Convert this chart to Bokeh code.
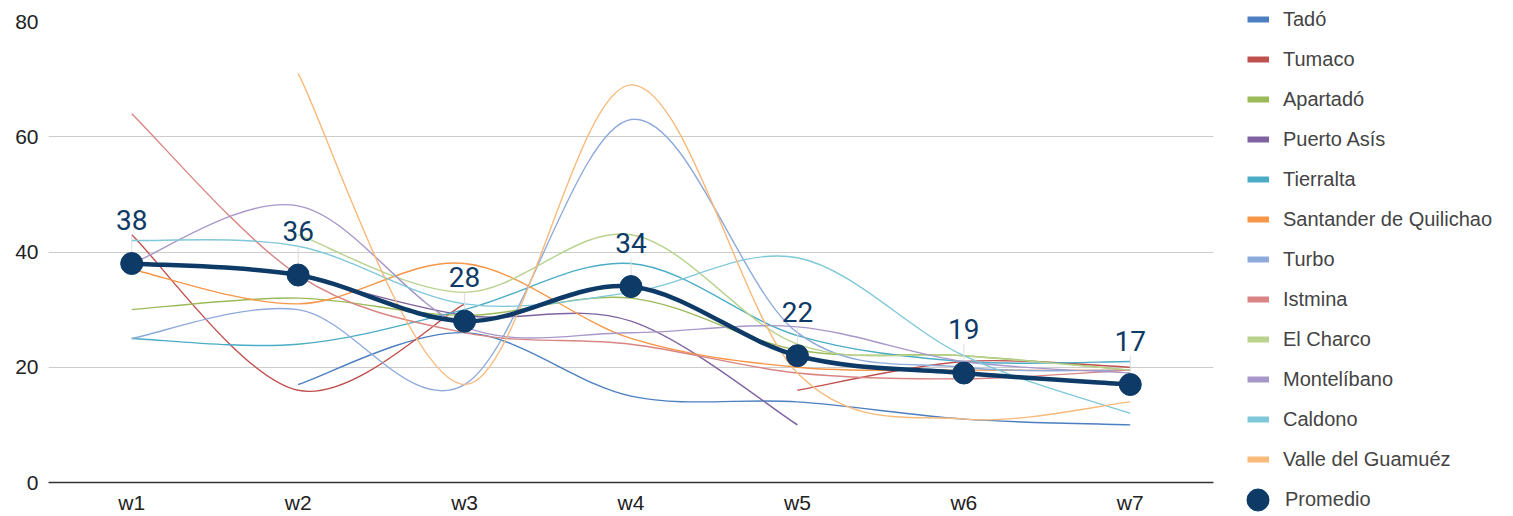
from bokeh.plotting import figure
from bokeh.layouts import row
from bokeh.models import Legend, LegendItem, FixedTicker, Range1d
from bokeh.embed import file_html
from bokeh.resources import INLINE
from bokeh.core.properties import value

N = None
weeks = ["w1", "w2", "w3", "w4", "w5", "w6", "w7"]
y_ticks = [0, 20, 40, 60, 80]

series_names = ["Tadó", "Tumaco", "Apartadó", "Puerto Asís", "Tierralta",
                "Santander de Quilichao", "Turbo", "Istmina", "El Charco",
                "Montelíbano", "Caldono", "Valle del Guamuéz"]

tado = [N, 17, 26, 15, 14, 11, 10]
tumaco = [43, 16, 31, N, 16, 21, 20]
apartado = [30, 32, 29, 32, 23, 22, 19.5]
puerto_asis = [N, 36, 29, 28, 10, N, N]
tierralta = [25, 24, 30, 38, 25.5, 21, 21]
santander = [37, 31, 38, 25, 20, 19.5, 19.5]
turbo = [25, 30, 17, 63, 26, 20, 19.5]
istmina = [64, 36, 26, 24, 19, 18, 19.5]
el_charco = [N, 43, 33, 43, 24, 22, 19.5]
montelibano = [38, 48, 27, 26, 27, 21, 19]
caldono = [42, 41, 31, 33, 39, 22, 12]
valle = [N, 71, 17, 69, 19, 11, 14]
promedio = [38, 36, 28, 34, 22, 19, 17]

series_values = [tado, tumaco, apartado, puerto_asis, tierralta, santander,
                 turbo, istmina, el_charco, montelibano, caldono, valle]
colors = ["#4C7FC0", "#C0504D", "#9BBB59", "#7E63A0", "#4BACC6", "#F79646",
          "#8EAADB", "#D98583", "#B9D38F", "#A897C9", "#7FC8D9", "#F9B97A"]
navy = "#0D3A66"

xs = list(range(len(weeks)))


def curve(vals, t=1 / 6):
    out = {k: [] for k in ["x0", "y0", "x1", "y1", "cx0", "cy0", "cx1", "cy1"]}
    runs, cur = [], []
    for i, v in enumerate(vals):
        if v is None:
            if cur:
                runs.append(cur)
            cur = []
        else:
            cur.append((xs[i], v))
    if cur:
        runs.append(cur)
    for pts in runs:
        n = len(pts)
        for j in range(n - 1):
            p0 = pts[j - 1] if j > 0 else pts[j]
            p1, p2 = pts[j], pts[j + 1]
            p3 = pts[j + 2] if j + 2 < n else pts[j + 1]
            out["x0"].append(p1[0]); out["y0"].append(p1[1])
            out["x1"].append(p2[0]); out["y1"].append(p2[1])
            out["cx0"].append(p1[0] + (p2[0] - p0[0]) * t)
            out["cy0"].append(p1[1] + (p2[1] - p0[1]) * t)
            out["cx1"].append(p2[0] - (p3[0] - p1[0]) * t)
            out["cy1"].append(p2[1] - (p3[1] - p1[1]) * t)
    return out


p = figure(width=1230, height=516, x_range=Range1d(-0.5, 6.5), y_range=Range1d(0, 80),
           output_backend="svg", toolbar_location=None,
           min_border_left=48, min_border_right=17, min_border_top=21, min_border_bottom=0)
p.frame_align = False
p.outline_line_color = None
p.xgrid.grid_line_color = None
p.ygrid.grid_line_color = "#cccccc"
p.ygrid.grid_line_width = 1

p.yaxis.ticker = FixedTicker(ticks=y_ticks)
p.yaxis.axis_line_color = None
p.yaxis.major_tick_line_color = None
p.yaxis.major_tick_out = 0
p.yaxis.minor_tick_line_color = None
p.yaxis.major_label_text_font_size = "21px"
p.yaxis.major_label_text_font = "Liberation Sans"
p.yaxis.major_label_text_color = "#222222"
p.yaxis.major_label_standoff = 10

p.xaxis.ticker = FixedTicker(ticks=xs)
p.xaxis.major_label_overrides = {i: w for i, w in zip(xs, weeks)}
p.xaxis.axis_line_color = "#333333"
p.xaxis.axis_line_width = 1.5
p.xaxis.major_tick_line_color = None
p.xaxis.major_tick_out = 0
p.xaxis.minor_tick_line_color = None
p.xaxis.major_label_text_font_size = "21px"
p.xaxis.major_label_text_font = "Liberation Sans"
p.xaxis.major_label_text_color = "#222222"
p.xaxis.major_label_standoff = 8

for vals, c in zip(series_values, colors):
    seg = curve(vals)
    p.bezier(x0=seg["x0"], y0=seg["y0"], x1=seg["x1"], y1=seg["y1"],
             cx0=seg["cx0"], cy0=seg["cy0"], cx1=seg["cx1"], cy1=seg["cy1"],
             line_color=c, line_width=1.4)

# leader lines from labels
p.segment(x0=xs, y0=promedio, x1=xs, y1=[v + 5 for v in promedio],
          line_color="#dddddd", line_width=1)

seg = curve(promedio)
p.bezier(x0=seg["x0"], y0=seg["y0"], x1=seg["x1"], y1=seg["y1"],
         cx0=seg["cx0"], cy0=seg["cy0"], cx1=seg["cx1"], cy1=seg["cy1"],
         line_color=navy, line_width=4.5)
p.scatter(x=xs, y=promedio, size=22, fill_color=navy, line_color=navy)
p.text(x=xs, y=promedio, text=[str(v) for v in promedio], text_align="center",
       text_baseline="alphabetic", y_offset=-44, text_font=value("Roboto"),
       text_font_size="28px", text_color=navy)

# legend in its own panel (proxy renderers sit outside the visible range)
lg = figure(width=283, height=516, x_range=Range1d(0, 1), y_range=Range1d(0, 1),
            output_backend="svg", toolbar_location=None, x_axis_type=None, y_axis_type=None,
            min_border_left=0, min_border_right=0, min_border_top=0, min_border_bottom=0)
lg.frame_align = False
lg.outline_line_color = None
lg.xgrid.grid_line_color = None
lg.ygrid.grid_line_color = None

items = []
for name, c in zip(series_names, colors):
    r = lg.line(x=[5, 6], y=[5, 5], line_color=c, line_width=6)
    items.append(LegendItem(label=name, renderers=[r]))
legend = Legend(items=items, location=(17, 45), orientation="vertical",
                glyph_width=22, glyph_height=24, label_height=24, spacing=16,
                label_standoff=14, padding=0, margin=0,
                border_line_color=None, background_fill_alpha=0,
                label_text_font_size="20px", label_text_font="Liberation Sans",
                label_text_color="#444444")
lg.add_layout(legend, "center")

rp = lg.scatter(x=[5], y=[5], size=22, fill_color=navy, line_color=navy)
legend2 = Legend(items=[LegendItem(label="Promedio", renderers=[rp])], location=(0, -11),
                 glyph_width=55, glyph_height=55, label_height=24, label_standoff=-2,
                 padding=0, margin=0, border_line_color=None, background_fill_alpha=0,
                 label_text_font_size="20px", label_text_font="Liberation Sans",
                 label_text_color="#444444")
lg.add_layout(legend2, "center")

open("out.html", "w").write(file_html(row(p, lg), INLINE))
